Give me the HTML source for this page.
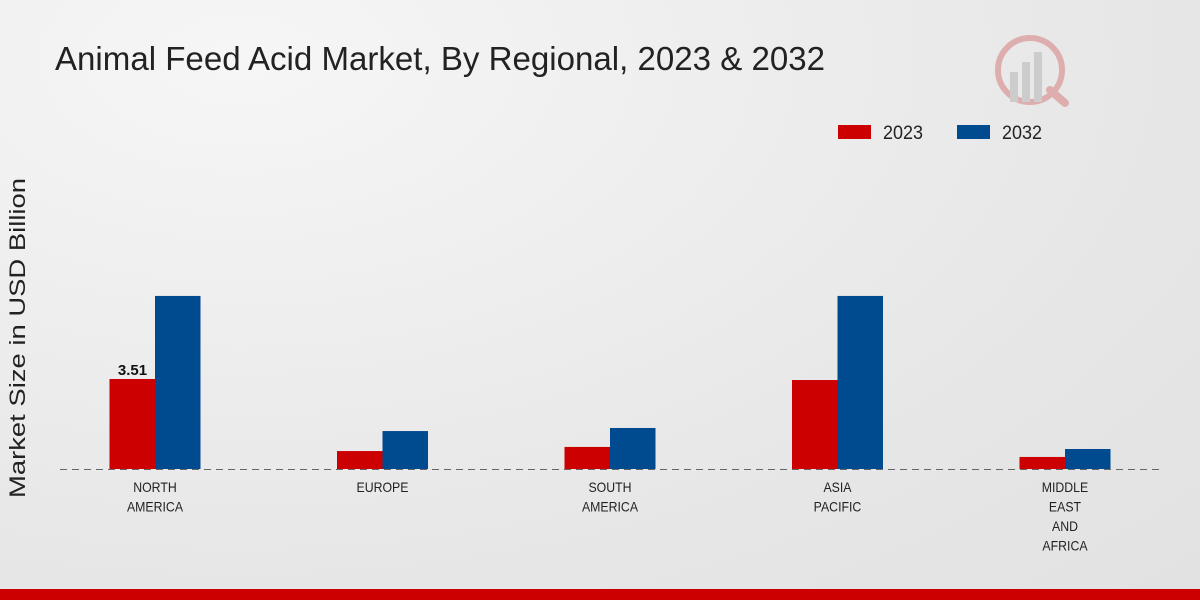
<!DOCTYPE html>
<html><head><meta charset="utf-8"><style>
body{margin:0;width:1200px;height:600px;overflow:hidden;font-family:"Liberation Sans",sans-serif;}
#bg{position:absolute;left:0;top:0;width:1200px;height:600px;background:radial-gradient(ellipse at 20% 10%,#f6f6f6 0%,#e6e6e6 70%,#e2e2e2 100%);}
</style></head><body>
<div id="bg"></div>
<svg id="c" width="1200" height="600" style="position:absolute;left:0;top:0">
<text x="55" y="70" font-size="33" fill="#222" textLength="770" lengthAdjust="spacingAndGlyphs">Animal Feed Acid Market, By Regional, 2023 &amp; 2032</text>
<g opacity="0.35">
<circle cx="1030" cy="70" r="32" fill="none" stroke="#c44" stroke-width="6"/>
<rect x="1010" y="72" width="8" height="30" fill="#999"/><rect x="1022" y="62" width="8" height="40" fill="#999"/><rect x="1034" y="52" width="8" height="50" fill="#999"/>
<line x1="1050" y1="90" x2="1065" y2="103" stroke="#c44" stroke-width="8" stroke-linecap="round"/>
</g>
<g>
<rect x="838" y="125" width="33" height="14" fill="#cc0000"/>
<text x="883" y="139" font-size="19" fill="#222" textLength="40" lengthAdjust="spacingAndGlyphs">2023</text>
<rect x="957" y="125" width="33" height="14" fill="#004a8f"/>
<text x="1002" y="139" font-size="19" fill="#222" textLength="40" lengthAdjust="spacingAndGlyphs">2032</text>
</g>
<text transform="translate(25,338) rotate(-90)" text-anchor="middle" font-size="22" fill="#222" textLength="320" lengthAdjust="spacingAndGlyphs">Market Size in USD Billion</text>
<line x1="60" y1="469.5" x2="1160" y2="469.5" stroke="#666" stroke-dasharray="7,5"/>
<g id="bars"></g>
<rect x="0" y="589" width="1200" height="11" fill="#cc0000"/>
</svg>
<script>
const categories=[["NORTH","AMERICA"],["EUROPE"],["SOUTH","AMERICA"],["ASIA","PACIFIC"],["MIDDLE","EAST","AND","AFRICA"]];
const values2023=[3.51,0.70,0.86,3.47,0.47];
const values2032=[6.75,1.48,1.60,6.75,0.78];
const labels2023=["3.51",null,null,null,null];
const baseY=469, scale=25.64;
function xCenter(i){return 155+i*227.5;}
function yH(v){return v*scale;}
const g=document.getElementById('bars');
const ns="http://www.w3.org/2000/svg";
categories.forEach((cat,i)=>{
  const cx=xCenter(i);
  [[values2023[i],"#cc0000",cx-45.5,"2023"],[values2032[i],"#004a8f",cx,"2032"]].forEach(([v,col,x,yr])=>{
    const r=document.createElementNS(ns,'rect');
    r.setAttribute('x',x);r.setAttribute('width',45.5);
    r.setAttribute('y',baseY-yH(v));r.setAttribute('height',yH(v));r.setAttribute('fill',col);
    
    
    g.appendChild(r);
  });
  if(labels2023[i]){
    const t=document.createElementNS(ns,'text');
    t.setAttribute('x',cx-22.5);t.setAttribute('y',baseY-yH(values2023[i])-4);
    t.setAttribute('text-anchor','middle');t.setAttribute('font-size','15');t.setAttribute('font-weight','bold');t.setAttribute('fill','#111');
    t.textContent=labels2023[i];
    
    
    g.appendChild(t);
  }
  cat.forEach((line,k)=>{
    const t=document.createElementNS(ns,'text');
    t.setAttribute('x',cx);t.setAttribute('y',492+k*19.5);
    t.setAttribute('text-anchor','middle');t.setAttribute('font-size','14');t.setAttribute('fill','#222');
    t.setAttribute('transform','translate('+cx+',0) scale(0.88,1) translate('+(-cx)+',0)');
    t.textContent=line;
    
    
    g.appendChild(t);
  });
});
</script>
</body></html>
